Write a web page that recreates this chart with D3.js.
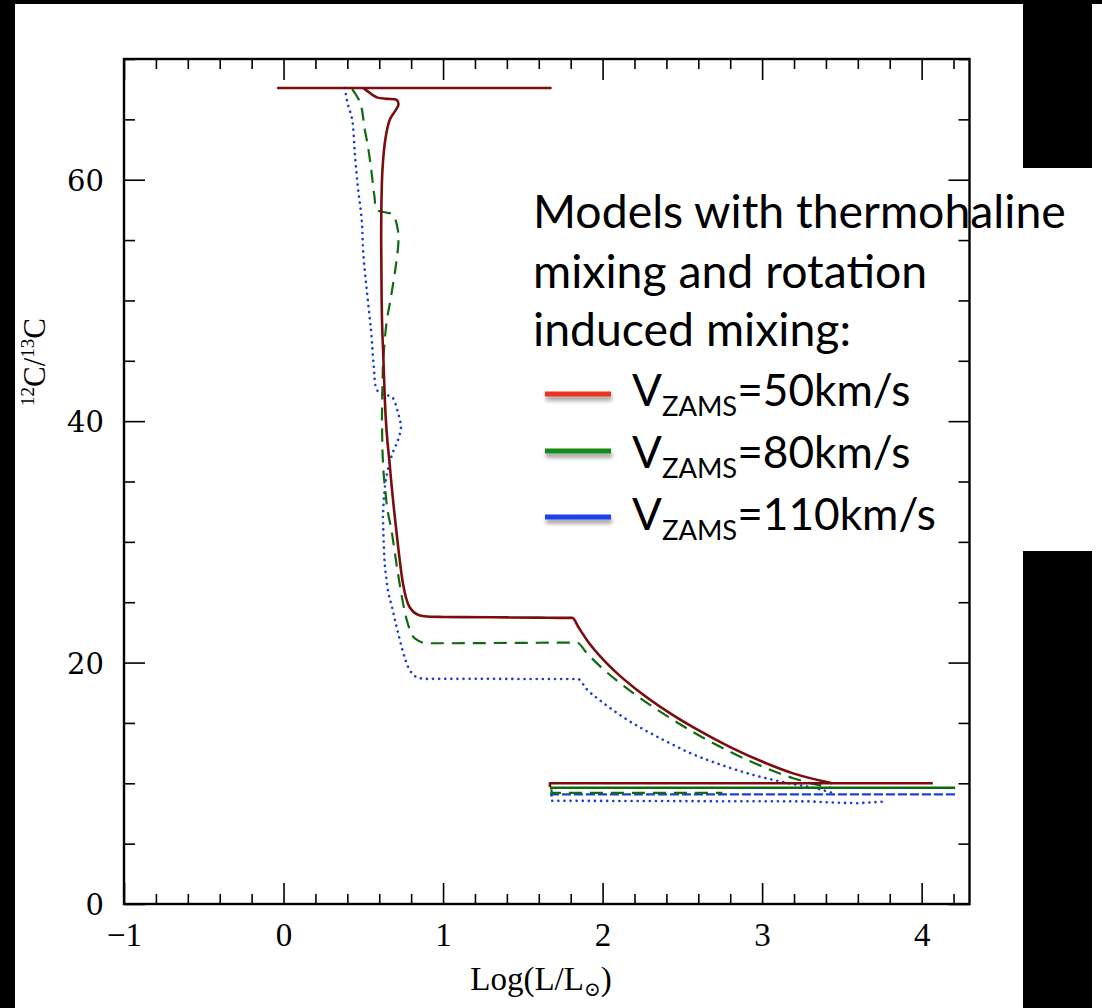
<!DOCTYPE html>
<html><head><meta charset="utf-8">
<script src="https://cdn.jsdelivr.net/npm/d3@7"></script>
<style>body{margin:0;background:#000;} svg{display:block}</style>
</head><body>
<svg id="c" width="1102" height="1008"></svg>
<script>
// ---------- data ----------
const xDomain = [-1, 4.3];
const yDomain = [0, 70];
const xTickValues = [-1, 0, 1, 2, 3, 4];
const xTickLabels = ["\u22121", "0", "1", "2", "3", "4"];
const yTickValues = [0, 20, 40, 60];
const yTickLabels = ["0", "20", "40", "60"];

// V = 50 km/s (solid)
const red50Top = [[-0.04, 67.6], [1.68, 67.6]];
const red50Track = [[0.50, 67.6], [0.53, 67.3], [0.56, 67.0], [0.59, 66.8], [0.65, 66.7], [0.71, 66.6], [0.72, 66.2],
  [0.70, 65.7], [0.667, 65.0], [0.64, 63.5], [0.62, 60.8], [0.612, 55.3], [0.615, 50.0], [0.625, 45.5], [0.635, 41.8],
  [0.667, 36.2], [0.709, 30.7], [0.748, 26.6], [0.79, 24.6], [0.855, 23.9], [0.917, 23.8], [1.0, 23.78], [1.3, 23.75],
  [1.6, 23.72], [1.75, 23.7], [1.81, 23.7], [1.85, 22.9], [1.9, 21.9], [2.0, 20.3], [2.1, 19.0], [2.2, 17.9],
  [2.4, 16.0], [2.6, 14.4], [2.8, 13.0], [3.0, 11.8], [3.2, 10.8], [3.44, 10.0]];
const red50Bottom = [[1.67, 9.7], [1.67, 10.0], [4.07, 10.0]];

// V = 80 km/s (dashed)
const green80Track = [[0.43, 67.5], [0.48, 66.4], [0.51, 64.1], [0.53, 62.7], [0.55, 60.8], [0.57, 58.6], [0.585, 57.5],
  [0.635, 57.3], [0.685, 57.1], [0.717, 55.8], [0.72, 54.8], [0.70, 52.5], [0.667, 49.8], [0.648, 48.4], [0.63, 46.0],
  [0.623, 44.5], [0.617, 40.3], [0.62, 37.6], [0.64, 34.0], [0.68, 30.7], [0.717, 27.4], [0.773, 23.5], [0.823, 22.0],
  [0.9, 21.6], [1.0, 21.6], [1.3, 21.62], [1.6, 21.64], [1.78, 21.65], [1.84, 21.65], [1.9, 20.8], [2.0, 19.5],
  [2.1, 18.4], [2.2, 17.4], [2.4, 15.6], [2.6, 14.0], [2.8, 12.6], [3.0, 11.4], [3.2, 10.4], [3.44, 9.6]];
const green80Bottom = [[1.67, 9.63], [4.21, 9.63]];
const green80Lower = [[1.68, 9.5], [1.68, 9.2], [2.75, 9.2]];

// V = 110 km/s (dotted)
const blue110Track = [[0.385, 67.6], [0.40, 66.4], [0.43, 65.0], [0.447, 62.2], [0.466, 59.4], [0.49, 56.7], [0.50, 53.9],
  [0.52, 51.1], [0.54, 48.6], [0.55, 47.3], [0.566, 44.5], [0.585, 42.6], [0.623, 42.2], [0.68, 42.0], [0.717, 40.7],
  [0.736, 39.5], [0.717, 38.4], [0.685, 37.4], [0.654, 36.0], [0.635, 34.5], [0.623, 32.1], [0.63, 29.3], [0.648, 26.6],
  [0.68, 24.6], [0.71, 22.9], [0.74, 21.3], [0.79, 19.4], [0.855, 18.7], [0.905, 18.65], [1.0, 18.65], [1.3, 18.65],
  [1.6, 18.64], [1.79, 18.64], [1.845, 18.64], [1.9, 17.8], [2.0, 16.7], [2.15, 15.3], [2.38, 13.6], [2.55, 12.5],
  [2.75, 11.5], [2.97, 10.6], [3.17, 10.0], [3.38, 9.44], [3.44, 9.2]];
const blue110Bottom = [[1.67, 9.08], [4.21, 9.08]];
const blue110Lower = [[1.68, 9.0], [1.68, 8.55], [3.30, 8.5], [3.45, 8.4], [3.6, 8.35], [3.78, 8.5]];

const legendTitle = ["Models with thermohaline", "mixing and rotation", "induced mixing:"];
const legendNames = ["50km/s", "80km/s", "110km/s"];
const legendColors = ["#e8341f", "#168a16", "#1a3ff0"];

// ---------- layout ----------
const svg = d3.select("#c");
const X0 = 124, X1 = 969.5, Y0 = 904, Y1 = 59;
const x = d3.scaleLinear().domain(xDomain).range([X0, X1]);
const y = d3.scaleLinear().domain(yDomain).range([Y0, Y1]);

// background panels
svg.append("rect").attr("width", 1102).attr("height", 1008).attr("fill", "#000");
svg.append("rect").attr("x", 15).attr("y", 4).attr("width", 1008).attr("height", 1004).attr("fill", "#fff");
svg.append("rect").attr("x", 1092).attr("y", 4).attr("width", 10).attr("height", 1004).attr("fill", "#fff");
svg.append("rect").attr("x", 1022).attr("y", 168).attr("width", 71).attr("height", 383).attr("fill", "#fff");

// axes (ticks inward)
const minorX = d3.range(-1, 4.31, 0.2).filter(v => Math.abs(v - Math.round(v)) > 1e-6);
const minorY = d3.range(0, 70.1, 5).filter(v => v % 20 !== 0);
function axisG(gen, tx, ty) {
  const g = svg.append("g").attr("transform", `translate(${tx},${ty})`).call(gen);
  g.select(".domain").remove();
  g.selectAll("line").attr("stroke", "#000").attr("stroke-width", 1.6);
  return g;
}
const bx = axisG(d3.axisBottom(x).tickValues(xTickValues).tickSize(-21).tickFormat((d, i) => xTickLabels[i]), 0, Y0);
bx.selectAll("text").attr("y", 42).attr("dy", 0).attr("font-family", "Liberation Serif").attr("font-size", 33).attr("fill", "#000");
axisG(d3.axisBottom(x).tickValues(minorX).tickSize(-10).tickFormat(""), 0, Y0);
axisG(d3.axisTop(x).tickValues(xTickValues).tickSize(-21).tickFormat(""), 0, Y1);
axisG(d3.axisTop(x).tickValues(minorX).tickSize(-10).tickFormat(""), 0, Y1);
const ly = axisG(d3.axisLeft(y).tickValues(yTickValues).tickSize(-21).tickPadding(20).tickFormat((d, i) => yTickLabels[i]), X0, 0);
ly.selectAll("text").attr("font-family", "DejaVu Serif").attr("font-size", 29).attr("fill", "#000").attr("dy", "0.36em");
axisG(d3.axisLeft(y).tickValues(minorY).tickSize(-11).tickFormat(""), X0, 0);
axisG(d3.axisRight(y).tickValues(yTickValues).tickSize(-21).tickFormat(""), X1, 0);
axisG(d3.axisRight(y).tickValues(minorY).tickSize(-11).tickFormat(""), X1, 0);

// curves
const line = d3.line().x(d => x(d[0])).y(d => y(d[1]));
const smoothA = d3.line().x(d => x(d[0])).y(d => y(d[1])).curve(d3.curveCatmullRom.alpha(0.5));
const smoothB = d3.line().x(d => x(d[0])).y(d => y(d[1])).curve(d3.curveMonotoneX);
// hooked upper part: Catmull-Rom; part where x only increases: monotone (no overshoot at corners)
function trackPath(data) {
  let k = data.length - 1;
  while (k > 0 && data[k - 1][0] < data[k][0]) k--;
  const a = smoothA(data.slice(0, k + 1));
  const b = smoothB(data.slice(k)).replace(/^M/, "L");
  return a + b;
}
const plotCol = { red: "#7a0d0d", green: "#0f6a12", blue: "#1f3fd2" };
function draw(data, col, w, dash, gen) {
  svg.append("path").datum(data).attr("d", gen || line).attr("fill", "none")
    .attr("stroke", col).attr("stroke-width", w).attr("stroke-dasharray", dash || null)
    .attr("stroke-linejoin", "round").attr("stroke-linecap", dash === "0.1 6" ? "round" : "butt");
}
draw(blue110Track, plotCol.blue, 2.6, "0.1 6", trackPath);
draw(blue110Bottom, plotCol.blue, 2.4, "9 3");
draw(blue110Lower, plotCol.blue, 2.6, "0.1 6");
draw(green80Track, plotCol.green, 2.2, "13 8", trackPath);
draw(green80Lower, plotCol.green, 2.2, "13 8");
draw(green80Bottom, plotCol.green, 2.4, null);
draw(red50Top, plotCol.red, 2.6, null);
draw(red50Track, plotCol.red, 2.6, null, trackPath);
draw(red50Bottom, plotCol.red, 2.6, null);

// frame
svg.append("rect").attr("x", X0).attr("y", Y1).attr("width", X1 - X0).attr("height", Y0 - Y1)
  .attr("fill", "none").attr("stroke", "#000").attr("stroke-width", 2.4);

// axis titles
const xt = svg.append("text").attr("x", 541).attr("y", 990).attr("text-anchor", "middle")
  .attr("font-family", "Liberation Serif").attr("font-size", 33).attr("fill", "#000");
xt.append("tspan").text("Log(L/L");
xt.append("tspan").attr("font-size", 20).attr("dy", 6).attr("font-family", "DejaVu Serif").text("\u2299");
xt.append("tspan").attr("dy", -6).text(")");

const yt = svg.append("text").attr("transform", "translate(45,362) rotate(-90)").attr("text-anchor", "middle")
  .attr("font-family", "Liberation Serif").attr("font-size", 31).attr("fill", "#000");
yt.append("tspan").attr("font-size", 19).attr("dy", -11).text("12");
yt.append("tspan").attr("dy", 11).text("C/");
yt.append("tspan").attr("font-size", 19).attr("dy", -11).text("13");
yt.append("tspan").attr("dy", 11).text("C");

// legend
const defs = svg.append("defs");
const f = defs.append("filter").attr("id", "sh").attr("filterUnits", "userSpaceOnUse")
  .attr("x", 500).attr("y", 350).attr("width", 150).attr("height", 200);
f.append("feDropShadow").attr("dx", 1).attr("dy", 4).attr("stdDeviation", 2).attr("flood-color", "#000").attr("flood-opacity", 0.4);

const LF = "Lato, 'Open Sans', sans-serif";
const titleBase = [228, 288, 346];
const tnodes = legendTitle.map((t, i) => svg.append("text").attr("x", 533).attr("y", titleBase[i])
  .attr("font-family", LF).attr("font-size", 44).attr("fill", "#000").text(t));
const w0 = tnodes[0].node().getComputedTextLength();
const fs = 44 * 533 / w0;
tnodes.forEach(n => n.attr("font-size", fs));

const entryBase = [406, 468, 530];
const lineY = [394, 451, 517];
const entries = legendNames.map((nm, i) => {
  svg.append("rect").attr("x", 545).attr("width", 66).attr("y", lineY[i] - 2.5).attr("height", 5)
    .attr("fill", legendColors[i]).attr("filter", "url(#sh)");
  const t = svg.append("text").attr("x", 632).attr("y", entryBase[i]).attr("font-family", LF)
    .attr("font-size", 44).attr("fill", "#000");
  t.append("tspan").text("V");
  t.append("tspan").attr("class", "sub").attr("font-size", 44 * 0.62).attr("dy", 10).text("ZAMS");
  t.append("tspan").attr("dy", -10).text("=" + nm);
  return t;
});
// fit the entries so the longest one matches the picture width
const wl = entries[2].node().getComputedTextLength();
const efs = 44 * 304 / wl;
entries.forEach(t => {
  t.attr("font-size", efs);
  t.select(".sub").attr("font-size", efs * 0.62);
});
</script>
</body></html>
